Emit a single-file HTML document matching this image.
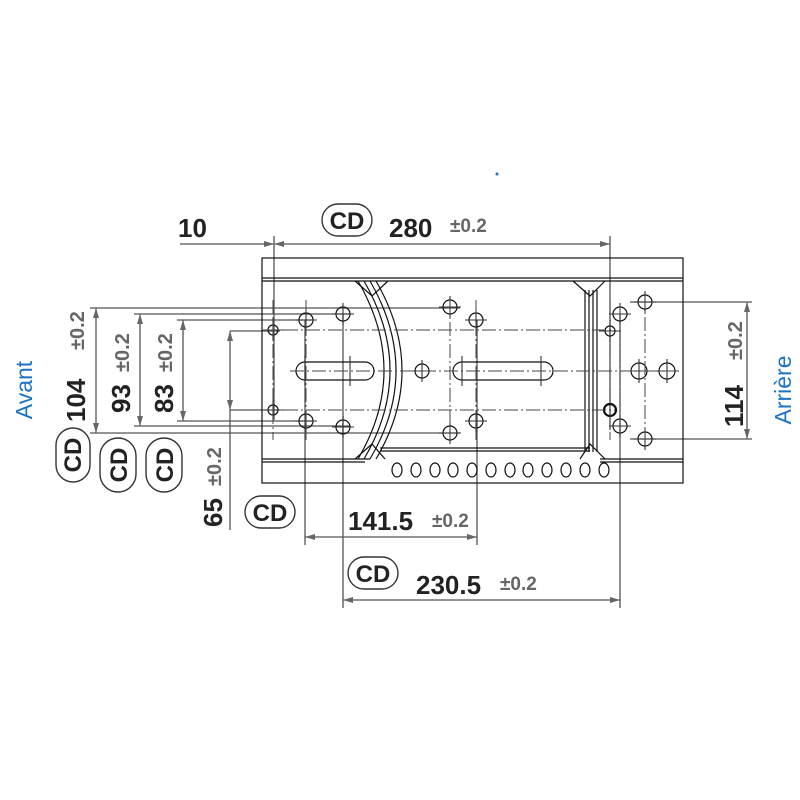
<!DOCTYPE html><html><head><style>body{margin:0;background:#fff}svg{display:block}</style></head><body>
<svg width="800" height="800" viewBox="0 0 800 800" xmlns="http://www.w3.org/2000/svg" font-family="Liberation Sans, sans-serif">
<defs>
<marker id="a" viewBox="0 0 10 6" refX="10" refY="3" markerWidth="12" markerHeight="6" orient="auto-start-reverse" markerUnits="userSpaceOnUse"><path d="M0,0L10,3L0,6z" fill="#666"/></marker>
</defs>
<g stroke="#555" stroke-width="1.3" fill="none">
<line x1="274" y1="236" x2="274" y2="420"/><line x1="610" y1="236" x2="610" y2="430"/>
<line x1="305" y1="320" x2="305" y2="545"/><line x1="477" y1="320" x2="477" y2="545"/>
<line x1="343" y1="314" x2="343" y2="608"/><line x1="620" y1="314" x2="620" y2="608"/>
<line x1="90" y1="308" x2="460" y2="308"/><line x1="90" y1="433" x2="460" y2="433"/>
<line x1="134" y1="314" x2="350" y2="314"/><line x1="134" y1="426" x2="350" y2="426"/>
<line x1="177" y1="320" x2="312" y2="320"/><line x1="177" y1="421" x2="312" y2="421"/>
<line x1="230" y1="331" x2="280" y2="331"/><line x1="230" y1="410" x2="280" y2="410"/>
<line x1="230" y1="410" x2="230" y2="530"/>
<line x1="630" y1="302" x2="752" y2="302"/><line x1="630" y1="439" x2="752" y2="439"/>
<line x1="180" y1="244" x2="274" y2="244" marker-end="url(#a)"/>
<line x1="274" y1="244" x2="610" y2="244" marker-start="url(#a)" marker-end="url(#a)"/>
<line x1="305" y1="537" x2="477" y2="537" marker-start="url(#a)" marker-end="url(#a)"/>
<line x1="343" y1="600" x2="620" y2="600" marker-start="url(#a)" marker-end="url(#a)"/>
<line x1="96" y1="308" x2="96" y2="433" marker-start="url(#a)" marker-end="url(#a)"/>
<line x1="140" y1="314" x2="140" y2="426" marker-start="url(#a)" marker-end="url(#a)"/>
<line x1="183" y1="320" x2="183" y2="421" marker-start="url(#a)" marker-end="url(#a)"/>
<line x1="230" y1="331" x2="230" y2="410" marker-start="url(#a)" marker-end="url(#a)"/>
<line x1="747" y1="302" x2="747" y2="439" marker-start="url(#a)" marker-end="url(#a)"/>
</g>
<g stroke="#111" stroke-width="1.2" fill="none">
<rect x="262" y="258" width="421" height="225"/>
<line x1="262" y1="278" x2="683" y2="278"/><line x1="262" y1="281" x2="683" y2="281"/>
<line x1="262" y1="459" x2="370" y2="459"/><line x1="262" y1="462" x2="365" y2="462"/>
<line x1="600" y1="459" x2="683" y2="459"/><line x1="600" y1="462" x2="683" y2="462"/>
<line x1="380" y1="448" x2="590" y2="448"/><line x1="380" y1="451" x2="590" y2="451"/>
<path d="M358,281 Q410,371 358,459"/><path d="M364,281 Q416,371 364,459"/><path d="M370,281 Q422,371 370,459"/><path d="M376,281 Q428,371 376,459"/>
<path d="M355,281 L372,296 L388,281"/><path d="M355,459 L372,444 L385,459"/>
<line x1="585" y1="290" x2="585" y2="452"/><line x1="589" y1="290" x2="589" y2="452"/><line x1="593" y1="290" x2="593" y2="452"/><line x1="597" y1="290" x2="597" y2="452"/>
<path d="M573,281 L590,296 L605,281"/><path d="M580,459 L590,444 L605,459"/>
<rect x="296" y="362" width="78" height="18" rx="9"/>
<rect x="453" y="362" width="100" height="18" rx="9"/>
<ellipse cx="397" cy="470" rx="5" ry="7"/><ellipse cx="416" cy="470" rx="5" ry="7"/><ellipse cx="435" cy="470" rx="5" ry="7"/><ellipse cx="453" cy="470" rx="5" ry="7"/><ellipse cx="472" cy="470" rx="5" ry="7"/><ellipse cx="491" cy="470" rx="5" ry="7"/><ellipse cx="510" cy="470" rx="5" ry="7"/><ellipse cx="528" cy="470" rx="5" ry="7"/><ellipse cx="547" cy="470" rx="5" ry="7"/><ellipse cx="566" cy="470" rx="5" ry="7"/><ellipse cx="585" cy="470" rx="5" ry="7"/><ellipse cx="604" cy="470" rx="5" ry="7"/>
<circle cx="273" cy="330" r="5"/><circle cx="273" cy="410" r="5"/>
<circle cx="306" cy="320" r="7"/><circle cx="306" cy="421" r="7"/>
<circle cx="343" cy="314" r="7"/><circle cx="343" cy="427" r="7"/>
<circle cx="450" cy="307" r="7"/><circle cx="450" cy="433" r="7"/>
<circle cx="476" cy="320" r="7"/><circle cx="476" cy="421" r="7"/>
<circle cx="422" cy="371" r="7"/>
<circle cx="610" cy="331" r="5"/><circle cx="610" cy="410" r="6" stroke-width="2.2"/>
<circle cx="620" cy="314" r="7"/><circle cx="620" cy="426" r="7"/>
<circle cx="645" cy="302" r="7"/><circle cx="645" cy="439" r="7"/>
<circle cx="639" cy="371" r="8"/><circle cx="667" cy="371" r="8"/>
</g>
<g stroke="#333" stroke-width="1.1">
<path d="M262,330h22M273,319v22M262,410h22M273,399v22M295,320h22M306,309v22M295,421h22M306,410v22M332,314h22M343,303v22M332,427h22M343,416v22M439,307h22M450,296v22M439,433h22M450,422v22M465,320h22M476,309v22M465,421h22M476,410v22M411,371h22M422,360v22M599,331h22M610,320v22M609,314h22M620,303v22M609,426h22M620,415v22M634,302h22M645,291v22M634,439h22M645,428v22M627,371h24M639,359v24M655,371h24M667,359v24M305,356v30M350,356v30M462,356v30M541,356v30"/>
</g>
<g stroke="#444" stroke-width="1" stroke-dasharray="14,3,2,3" fill="none">
<line x1="290" y1="371" x2="680" y2="371"/>
<line x1="262" y1="330" x2="615" y2="330"/><line x1="262" y1="410" x2="615" y2="410"/>
<line x1="273" y1="300" x2="273" y2="440"/><line x1="306" y1="300" x2="306" y2="440"/>
<line x1="450" y1="300" x2="450" y2="440"/><line x1="476" y1="300" x2="476" y2="440"/>
<line x1="610" y1="300" x2="610" y2="440"/><line x1="645" y1="295" x2="645" y2="445"/>
<line x1="620" y1="305" x2="620" y2="435"/>
</g>
<g font-weight="bold" fill="#222">
<text x="178" y="237" font-size="26">10</text>
<text x="389" y="237" font-size="26">280</text><text x="450" y="232" font-size="19" fill="#666">±0.2</text>
<text x="348" y="530" font-size="26">141.5</text><text x="432" y="527" font-size="19" fill="#666">±0.2</text>
<text x="416" y="594" font-size="26">230.5</text><text x="500" y="590" font-size="19" fill="#666">±0.2</text>
<text transform="translate(85,422) rotate(-90)" font-size="26">104</text><text transform="translate(84,350) rotate(-90)" font-size="20" fill="#666">±0.2</text>
<text transform="translate(130,413) rotate(-90)" font-size="26">93</text><text transform="translate(129,372) rotate(-90)" font-size="20" fill="#666">±0.2</text>
<text transform="translate(173,413) rotate(-90)" font-size="26">83</text><text transform="translate(172,372) rotate(-90)" font-size="20" fill="#666">±0.2</text>
<text transform="translate(222,527) rotate(-90)" font-size="26">65</text><text transform="translate(221,486) rotate(-90)" font-size="20" fill="#666">±0.2</text>
<text transform="translate(743,427) rotate(-90)" font-size="26">114</text><text transform="translate(742,360) rotate(-90)" font-size="20" fill="#666">±0.2</text>
</g>
<g stroke="#333" stroke-width="1.4" fill="none">
<rect x="322" y="204" width="50" height="32" rx="16"/>
<rect x="245" y="496" width="50" height="32" rx="16"/>
<rect x="348" y="557" width="50" height="32" rx="16"/>
<rect x="56" y="428" width="34" height="54" rx="17"/>
<rect x="100" y="438" width="36" height="54" rx="18"/>
<rect x="146" y="438" width="36" height="54" rx="18"/>
</g>
<g font-size="24" fill="#222" font-weight="bold">
<text x="347" y="229" text-anchor="middle">CD</text>
<text x="270" y="521" text-anchor="middle">CD</text>
<text x="373" y="582" text-anchor="middle">CD</text>
<text transform="translate(81,455) rotate(-90)" text-anchor="middle">CD</text>
<text transform="translate(127,465) rotate(-90)" text-anchor="middle">CD</text>
<text transform="translate(173,465) rotate(-90)" text-anchor="middle">CD</text>
</g>
<g fill="#1a73c4" font-size="23">
<text transform="translate(32,390) rotate(-90)" text-anchor="middle">Avant</text>
<text transform="translate(791,390) rotate(-90)" text-anchor="middle">Arrière</text>
</g>
<circle cx="497" cy="174" r="1.5" fill="#1a73c4"/>
</svg>
</body></html>
